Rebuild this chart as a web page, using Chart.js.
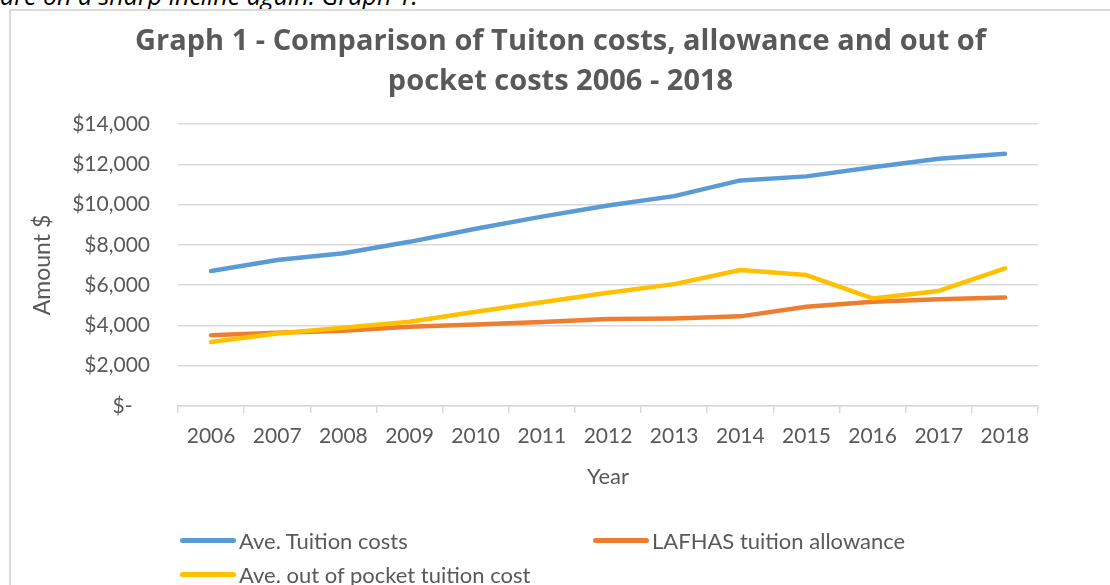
<!DOCTYPE html>
<html>
<head>
<meta charset="utf-8">
<script src="https://cdn.jsdelivr.net/npm/chart.js@4.4.1/dist/chart.umd.min.js"></script>
<style>
    html, body { margin: 0; padding: 0; background: #ffffff; overflow: hidden; }
    body { width: 1110px; height: 585px; position: relative; font-family: Lato, sans-serif; }
    .intro {
        position: absolute; left: 0; top: -17px; white-space: nowrap;
        font-family: 'Open Sans', sans-serif;
        font-style: italic; font-size: 25px; line-height: 25px; color: #000000;
    }
    .frame {
        position: absolute; left: 9px; top: 9px; width: 1200px; height: 700px;
        border-left: 2px solid #d9d9d9; border-top: 2px solid #d9d9d9;
    }
    .chart-box { position: absolute; left: 11px; top: 11px; width: 1099px; height: 574px; }
    .legend {
        position: absolute; left: 180px; top: 523px;
        display: grid; grid-template-columns: 413px auto; grid-auto-rows: 34px;
        font-size: 22px; color: #595959;
    }
    .legend-item { display: flex; align-items: center; }
    .legend-line { width: 56px; height: 5px; border-radius: 3px; margin-right: 3px; }
</style>
</head>
<body>
<div class="intro">are on a sharp incline again: Graph 1.</div>
<div class="frame"></div>
<div class="chart-box"><canvas id="tuitionChart"></canvas></div>
<div class="legend" id="legend"></div>

<script>
// Datos
const years = ['2006', '2007', '2008', '2009', '2010', '2011', '2012', '2013', '2014', '2015', '2016', '2017', '2018'];
const tuitionCosts = [6700, 7250, 7580, 8150, 8800, 9400, 9950, 10420, 11200, 11400, 11850, 12280, 12520];
const tuitionAllowance = [3510, 3640, 3740, 3940, 4050, 4170, 4320, 4350, 4450, 4930, 5180, 5300, 5390];
const outOfPocket = [3180, 3600, 3890, 4180, 4680, 5150, 5620, 6050, 6750, 6500, 5340, 5710, 6830];
const seriesNames = ['Ave. Tuition costs', 'LAFHAS tuition allowance', 'Ave. out of pocket tuition cost'];
const yTicks = [0, 2000, 4000, 6000, 8000, 10000, 12000, 14000];

document.addEventListener('DOMContentLoaded', function() {
    const textColor = '#595959';
    const gridColor = '#d9d9d9';

    function lineDataset(label, values, color, order) {
        return {
            label: label,
            data: values,
            borderColor: color,
            backgroundColor: color,
            borderWidth: 4.5,
            borderCapStyle: 'round',
            borderJoinStyle: 'round',
            pointRadius: 0,
            pointHoverRadius: 0,
            tension: 0,
            order: order
        };
    }

    const ctx = document.getElementById('tuitionChart').getContext('2d');
    const chart = new Chart(ctx, {
        type: 'line',
        data: {
            labels: years,
            datasets: [
                lineDataset(seriesNames[0], tuitionCosts, '#5b9bd5', 2),
                lineDataset(seriesNames[1], tuitionAllowance, '#ed7d31', 1),
                lineDataset(seriesNames[2], outOfPocket, '#ffc000', 0)
            ]
        },
        options: {
            responsive: true,
            maintainAspectRatio: false,
            animation: false,
            layout: {
                padding: { left: 0, right: 0, top: 0, bottom: 89 }
            },
            plugins: {
                legend: { display: false },
                tooltip: { enabled: false },
                title: {
                    display: true,
                    text: ['Graph 1 - Comparison of Tuiton costs, allowance and out of', 'pocket costs 2006 - 2018'],
                    color: textColor,
                    font: { family: 'Open Sans', size: 29, weight: 'bold', lineHeight: '40px' },
                    padding: { top: 11, bottom: 22 }
                }
            },
            scales: {
                x: {
                    offset: true,
                    grid: {
                        offset: true,
                        drawOnChartArea: false,
                        drawTicks: true,
                        tickLength: 7,
                        color: gridColor,
                        lineWidth: 1.5
                    },
                    border: { display: true, color: gridColor, width: 1.5 },
                    ticks: {
                        color: textColor,
                        font: { family: 'Lato', size: 21 },
                        padding: 11,
                        maxRotation: 0,
                        autoSkip: false
                    },
                    title: {
                        display: true,
                        text: 'Year',
                        color: textColor,
                        font: { family: 'Lato', size: 22 },
                        padding: { top: 0, bottom: 6 }
                    },
                    afterFit: function(scale) { scale.height = 90; }
                },
                y: {
                    min: 0,
                    max: 14000,
                    afterBuildTicks: function(scale) {
                        scale.ticks = yTicks.map(v => ({ value: v }));
                    },
                    grid: { color: gridColor, lineWidth: 1.5, drawTicks: false },
                    border: { display: false },
                    ticks: {
                        color: textColor,
                        font: { family: 'Lato', size: 21 },
                        padding: 28,
                        callback: value => value === 0 ? '$- \u2007' : '$' + value.toLocaleString('en-US')
                    },
                    title: {
                        display: true,
                        text: 'Amount $',
                        color: textColor,
                        font: { family: 'Lato', size: 23 },
                        padding: { top: 18, bottom: 0 }
                    },
                    afterFit: function(scale) { scale.width = 167; }
                },
                // eje vacío a la derecha, solo para dejar el margen sin descentrar el título
                spacer: {
                    position: 'right',
                    grid: { display: false, drawTicks: false },
                    border: { display: false },
                    ticks: { display: false },
                    afterFit: function(scale) { scale.width = 72; }
                }
            }
        }
    });

    // Leyenda en HTML con dos columnas, como en la hoja original
    const legend = document.getElementById('legend');
    chart.data.datasets.forEach(function(ds) {
        const item = document.createElement('div');
        item.className = 'legend-item';
        const line = document.createElement('span');
        line.className = 'legend-line';
        line.style.background = ds.borderColor;
        const label = document.createElement('span');
        label.textContent = ds.label;
        item.appendChild(line);
        item.appendChild(label);
        legend.appendChild(item);
    });
});
</script>
</body>
</html>
